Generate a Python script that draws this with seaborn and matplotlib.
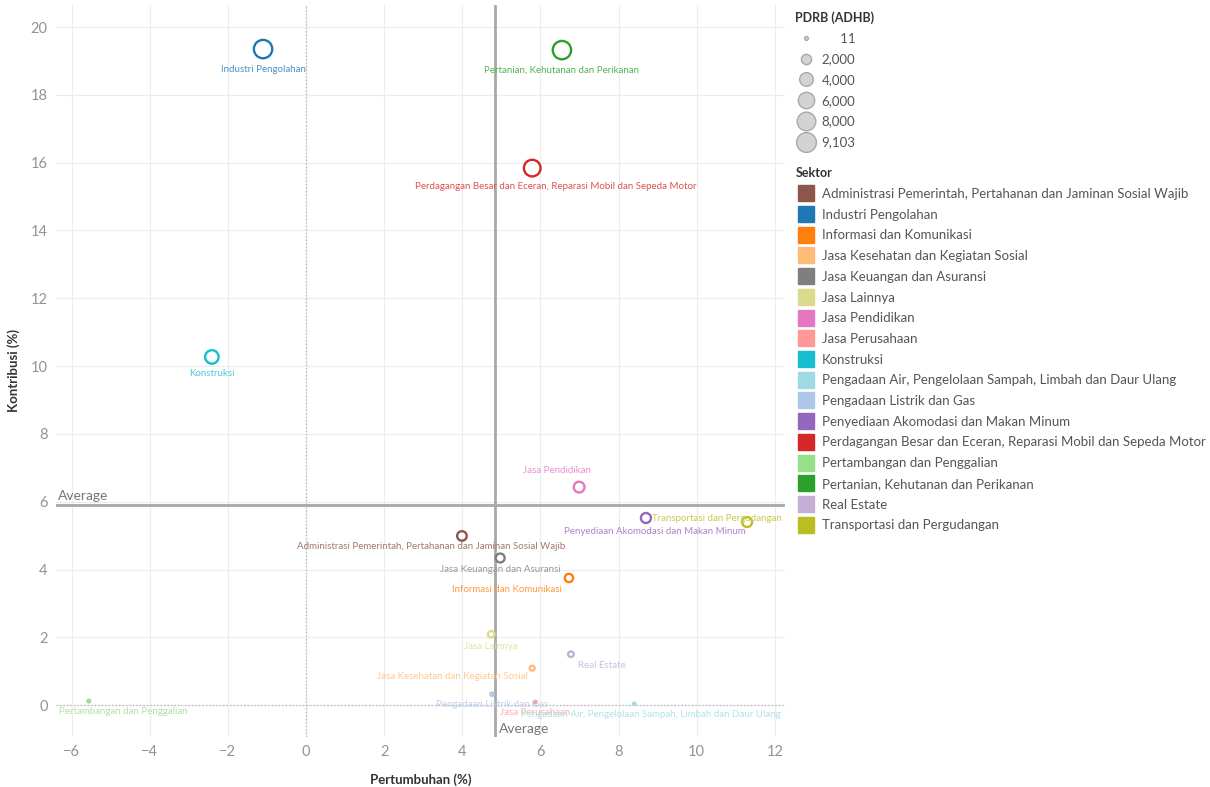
import numpy as np
import pandas as pd
import matplotlib
matplotlib.use("Agg")
import matplotlib.pyplot as plt
import matplotlib.colors as mcolors
from matplotlib.lines import Line2D
import seaborn as sns

# ---------------- data ----------------
sektor = [
    "Administrasi Pemerintah, Pertahanan dan Jaminan Sosial Wajib",
    "Industri Pengolahan",
    "Informasi dan Komunikasi",
    "Jasa Kesehatan dan Kegiatan Sosial",
    "Jasa Keuangan dan Asuransi",
    "Jasa Lainnya",
    "Jasa Pendidikan",
    "Jasa Perusahaan",
    "Konstruksi",
    "Pengadaan Air, Pengelolaan Sampah, Limbah dan Daur Ulang",
    "Pengadaan Listrik dan Gas",
    "Penyediaan Akomodasi dan Makan Minum",
    "Perdagangan Besar dan Eceran, Reparasi Mobil dan Sepeda Motor",
    "Pertambangan dan Penggalian",
    "Pertanian, Kehutanan dan Perikanan",
    "Real Estate",
    "Transportasi dan Pergudangan",
]
pertumbuhan = [3.99, -1.10, 6.73, 5.79, 4.97, 4.74, 6.99, 5.86, -2.41, 8.40,
               4.76, 8.70, 5.79, -5.56, 6.55, 6.78, 11.29]
kontribusi = [4.99, 19.35, 3.75, 1.09, 4.34, 2.09, 6.43, 0.09, 10.27, 0.04,
              0.32, 5.52, 15.84, 0.12, 19.32, 1.50, 5.40]
pdrb = [2347, 9103, 1764, 513, 2042, 983, 3025, 42, 4831, 11,
        151, 2597, 7452, 56, 9089, 706, 2540]
colors = ["#8c564b", "#1f77b4", "#ff7f0e", "#ffbb78", "#7f7f7f", "#dbdb8d",
          "#e377c2", "#ff9896", "#17becf", "#9edae5", "#aec7e8", "#9467bd",
          "#d62728", "#98df8a", "#2ca02c", "#c5b0d5", "#bcbd22"]
size_legend_values = [11, 2000, 4000, 6000, 8000, 9103]
size_legend_labels = ["\u2007\u2008\u200711", "2,000", "4,000", "6,000", "8,000", "9,103"]
x_ticks = [-6, -4, -2, 0, 2, 4, 6, 8, 10, 12]
y_ticks = [0, 2, 4, 6, 8, 10, 12, 14, 16, 18, 20]

df = pd.DataFrame({"Sektor": sektor, "Pertumbuhan": pertumbuhan,
                   "Kontribusi": kontribusi, "PDRB": pdrb})
palette = dict(zip(sektor, colors))

# label offsets in pixels (dx, dy)
label_offsets = {
    sektor[0]: (-31, -11), sektor[1]: (0, -20), sektor[2]: (-62, -12),
    sektor[3]: (-80, -8), sektor[4]: (0, -12), sektor[5]: (0, -12),
    sektor[6]: (-22, 17), sektor[7]: (0, -10), sektor[8]: (0, -17),
    sektor[9]: (17, -11), sektor[10]: (0, -10), sektor[11]: (9, -14),
    sektor[12]: (24, -18), sektor[13]: (34, -10), sektor[14]: (0, -20),
    sektor[15]: (31, -11), sektor[16]: (-30, 4),
}

# ---------------- style ----------------
sns.set_style("white")
plt.rcParams["font.family"] = ["Lato", "DejaVu Sans"]

fig = plt.figure(figsize=(12.1, 7.87), dpi=100)
ax = fig.add_axes([56 / 1210, 1 - 737 / 787, (785 - 56) / 1210, (737 - 5) / 787])

SMIN, SMAX = 3, 175
VMIN, VMAX = min(pdrb), max(pdrb)

sns.scatterplot(data=df, x="Pertumbuhan", y="Kontribusi", hue="Sektor",
                size="PDRB", sizes=(SMIN, SMAX), size_norm=(VMIN, VMAX),
                palette=palette, legend=False, ax=ax, zorder=5)
coll = ax.collections[0]
fc = coll.get_facecolors()
coll.set_edgecolors(fc)
coll.set_facecolors("none")
coll.set_linewidths(1.7)

ax.set_xlim(-6.40, 12.26)
ax.set_ylim(-0.94, 20.65)
ax.set_xticks(x_ticks)
ax.set_yticks(y_ticks)
ax.grid(True, color="#ececec", linewidth=0.8)
ax.set_axisbelow(True)
for s in ax.spines.values():
    s.set_visible(False)
ax.tick_params(axis="both", length=0, labelsize=10.5, labelcolor="#939393", pad=6)

ax.set_xlabel("Pertumbuhan (%)", fontsize=9.5, color="#333333", labelpad=10, fontweight="bold")
ax.set_ylabel("Kontribusi (%)", fontsize=9.5, color="#333333", labelpad=8, fontweight="bold")

# zero lines
ax.axvline(0, color="#bdbdbd", linestyle=(0, (1, 1.5)), linewidth=1, zorder=1)
ax.axhline(0, color="#bdbdbd", linestyle=(0, (1, 1.5)), linewidth=1, zorder=1)

# average lines
avg_x = float(np.mean(pertumbuhan))
avg_y = float(np.mean(kontribusi))
ax.axvline(avg_x, color="#a8a8a8", linewidth=2, zorder=2)
ax.axhline(avg_y, color="#a8a8a8", linewidth=2, zorder=2)
ax.annotate("Average", xy=(ax.get_xlim()[0], avg_y), xytext=(2, 3),
            textcoords="offset pixels", ha="left", va="bottom",
            fontsize=10, color="#777777")
ax.annotate("Average", xy=(avg_x, ax.get_ylim()[0]), xytext=(4, 2),
            textcoords="offset pixels", ha="left", va="bottom",
            fontsize=10, color="#777777")

# point labels
for name, x, y in zip(sektor, pertumbuhan, kontribusi):
    dx, dy = label_offsets[name]
    c = np.array(mcolors.to_rgb(palette[name]))
    lc = c * 0.8 + 0.2 * np.ones(3)
    ax.annotate(name, xy=(x, y), xytext=(dx, dy), textcoords="offset pixels",
                ha="center", va="center", fontsize=7, color=lc, zorder=6)

# ---------------- legends ----------------
def size_of(v):
    return SMIN + (v - VMIN) / (VMAX - VMIN) * (SMAX - SMIN)

size_handles = [Line2D([], [], marker="o", linestyle="",
                       markersize=np.sqrt(size_of(v)) + 1.0,
                       markerfacecolor="#d3d3d3", markeredgecolor="#a9a9a9",
                       markeredgewidth=1)
                for v in size_legend_values]
leg1 = fig.legend(size_handles, size_legend_labels, title="PDRB (ADHB)",
                  loc="upper left", bbox_to_anchor=(790 / 1210, 1 - 6 / 787),
                  frameon=False, fontsize=9.5, labelspacing=0.66,
                  handletextpad=0.4, borderaxespad=0, handlelength=1.6,
                  alignment="left",
                  title_fontproperties={"weight": "bold", "size": 9})
for t in leg1.get_texts():
    t.set_color("#555555")
leg1.get_title().set_color("#333333")

sek_handles = [Line2D([], [], marker="s", linestyle="", markersize=11,
                      markerfacecolor=c, markeredgecolor=c) for c in colors]
leg2 = fig.legend(sek_handles, sektor, title="Sektor",
                  loc="upper left", bbox_to_anchor=(790 / 1210, 1 - 162 / 787),
                  frameon=False, fontsize=9.5, labelspacing=0.66,
                  handletextpad=0.4, borderaxespad=0, handlelength=1.6,
                  alignment="left",
                  title_fontproperties={"weight": "bold", "size": 9})
for t in leg2.get_texts():
    t.set_color("#555555")
leg2.get_title().set_color("#333333")

fig.savefig("out.png", dpi=100)
